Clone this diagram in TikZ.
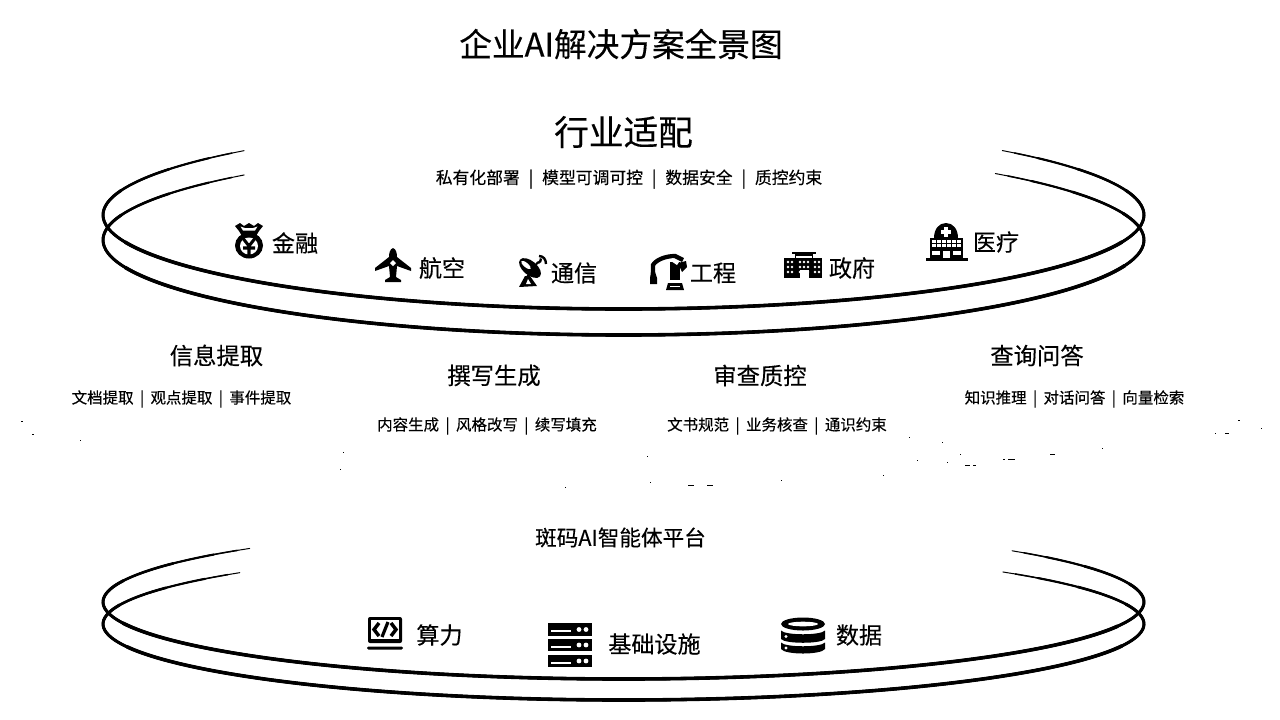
\documentclass[tikz,border=0pt]{standalone}
\usepackage{fontspec}
\setmainfont[FakeBold=0.3]{Noto Sans CJK SC}
\newcommand{\fz}[1]{\fontsize{#1}{#1}\selectfont}
\newcommand{\sepa}{\hspace{6.7pt}|\hspace{6.7pt}}
\newcommand{\sepb}{\hspace{4.8pt}|\hspace{4.8pt}}
\newcommand{\ringarc}[4]{% cy, b, open-end angle left, open-end angle right
  \foreach \wd/\st in {1.0/0,1.5/2,2.1/6,2.6/14,3.0/28,3.6/60}{
    \pgfmathsetmacro{\ta}{180+#3-\st}
    \pgfmathsetmacro{\tb}{-#4+\st}
    \draw[line width=\wd*0.75pt,line cap=round]
      plot[domain=\ta:\tb,samples=110,smooth] ({623.5+520.5*cos(\x)},{#1+#2*sin(\x)});
  }}
\tikzset{
  txt/.style={inner sep=0pt,outer sep=0pt,text=black},
  titletxt/.style={txt,font=\fz{24.5}},
  headtxt/.style={txt,font=\fz{26}},
  grouptxt/.style={txt,font=\fz{17.5}},
  labeltxt/.style={txt,font=\fz{17.3}},
  subtxt/.style={txt,font=\fz{12.6}},
  smalltxt/.style={txt,font=\fz{11.6}},
  platformtxt/.style={txt,font=\fz{16.2}},
  speck/.style={fill=black}
}
\begin{document}
\begin{tikzpicture}[x=0.75pt,y=-0.75pt]
\useasboundingbox (0,0) rectangle (1280,719);
\fill[white] (0,0) rectangle (1280,719);
% rings
\ringarc{215}{94}{43.2}{43.3}
\ringarc{240}{95}{43.2}{44.4}
\ringarc{602}{77}{44.1}{41.7}
\ringarc{624}{76}{42.5}{43.2}
% texts
\node[titletxt] (title) at (621,44) {企业AI解决方案全景图};
\node[headtxt] (industry) at (623.5,132) {行业适配};
\node[subtxt] (industrysub) at (629,179) {私有化部署\sepa 模型可调可控\sepa 数据安全\sepa 质控约束};
\node[labeltxt] (finance) at (295,243) {金融};
\node[labeltxt] (aviation) at (442,268) {航空};
\node[labeltxt] (telecom) at (574,273) {通信};
\node[labeltxt] (engineering) at (713,273) {工程};
\node[labeltxt] (government) at (852,268) {政府};
\node[labeltxt] (medical) at (996,242) {医疗};
\node[grouptxt] (extract) at (216.5,355.5) {信息提取};
\node[smalltxt] (extractsub) at (181.5,399) {文档提取\sepb 观点提取\sepb 事件提取};
\node[grouptxt] (write) at (494,375.5) {撰写生成};
\node[smalltxt] (writesub) at (487,426) {内容生成\sepb 风格改写\sepb 续写填充};
\node[grouptxt] (review) at (760,375.5) {审查质控};
\node[smalltxt] (reviewsub) at (777,426) {文书规范\sepb 业务核查\sepb 通识约束};
\node[grouptxt] (query) at (1037,355.5) {查询问答};
\node[smalltxt] (querysub) at (1074.5,399) {知识推理\sepb 对话问答\sepb 向量检索};
\node[platformtxt] (platform) at (620.5,537.5) {斑码AI智能体平台};
\node[labeltxt] (compute) at (439.5,635) {算力};
\node[labeltxt] (infra) at (654.5,644) {基础设施};
\node[labeltxt] (data) at (859,635) {数据};
% money bag
\fill (249,245.5) ellipse [x radius=14,y radius=13];
\fill[white] (249,246) ellipse [x radius=9,y radius=8.5];
\fill (239,231) -- (235,226) -- (240,223) -- (244,226) -- (249,223) -- (254,226) -- (258,223) -- (263,226) -- (259,231) -- (256,236) -- (242,236) -- cycle;
\fill[white] (240.5,226.5) -- (245,228) -- (253,228) -- (257.5,226.5) -- (255,230.5) -- (243,230.5) -- cycle;
\draw[line width=2.3pt] (243.5,239) -- (249,246) -- (254.5,239) (249,246) -- (249,255) (243,248) -- (255,248);
% airplane
\fill (393,248) .. controls (396,249) and (397,253) .. (397,257) -- (411,268) -- (411,271) -- (397,266) -- (396,277) -- (401,280) -- (401,282) -- (385,282) -- (385,280) -- (390,277) -- (389,266) -- (375,271) -- (375,268) -- (389,257) .. controls (389,253) and (390,249) .. (393,248) -- cycle;
\fill[white] (393,260) -- (396,263) -- (393,266) -- (390,263) -- cycle;
% satellite dish
\fill[rotate around={-40:(530,268)}] (530,268) ellipse [x radius=13,y radius=7];
\fill[white,rotate around={-40:(526,265)}] (526,265) ellipse [x radius=6,y radius=2.2];
\fill (519,287) -- (525,276) -- (530,276) -- (537,286) -- cycle;
\fill[white] (526,284) -- (528,279) -- (531,284) -- cycle;
\draw[line width=1.8pt] (538,263) .. controls (540,262) and (541,261) .. (541,258.5);
\draw[line width=1.8pt] (539,256) .. controls (543,256) and (546,259) .. (546,264);
\draw[line width=1.5pt] (527,277) -- (538,262);
% robot arm
\draw[line width=3.2pt] (653,274) -- (653,265) .. controls (656,260) and (665,256) .. (675,256) -- (683,260);
\fill (650,284) -- (650,278) -- (651,272) -- (655,272) -- (657,278) -- (657,284) -- cycle;
\fill (670,262) -- (680,262) -- (680,280) -- (670,280) -- cycle;
\fill (668,283) -- (682,283) -- (684,290) -- (666,290) -- cycle;
\fill[white] (670,285.5) rectangle (680,287);
\fill (678,263) -- (686,261) -- (687,267) -- (682,272) -- cycle;
\fill[white] (672,258) -- (679,262) -- (677,265) -- (671,261) -- cycle;
% government building
\fill (795,252) rectangle (813,278);
\fill (784,258) rectangle (822,278);
\fill (792,252) rectangle (816,254);
\fill[white] (796,256) rectangle (812,257.5);
\foreach \wx in {788,792,800,804,808,815,819}{
  \foreach \wy in {262,267,272}{
    \fill[white] (\wx,\wy) circle [radius=1.3];}}
\fill[white] (799.5,270) rectangle (808.5,278);
% hospital
\fill (934,238) .. controls (934,229) and (939,223) .. (946,223) .. controls (953,223) and (958,229) .. (958,238) -- cycle;
\fill[white] (944,227) rectangle (948,237);
\fill[white] (941,230) rectangle (951,234);
\fill (930,238) rectangle (963,258);
\fill (926,258) rectangle (968,260.5);
\foreach \wx in {934,939,944,949,954,959}{
  \foreach \wy in {241.5,245.5}{
    \fill[white] (\wx-1.6,\wy-1.1) rectangle (\wx+1.6,\wy+1.1);}}
\foreach \wx in {934,938,955,959}{
  \fill[white] (\wx-1.6,250.5) rectangle (\wx+1.6,255);}
\fill[white] (943,250.5) rectangle (950,258);
% code monitor
\fill[rounded corners=1.5pt] (368,617) rectangle (402,643);
\fill[white] (371,620) rectangle (399,639);
\draw[line width=2.6pt] (379,623) -- (374,629.5) -- (379,636);
\draw[line width=2.6pt] (391,623) -- (396,629.5) -- (391,636);
\draw[line width=2.4pt] (388,622) -- (382,637);
\fill[rounded corners=1pt] (367,646.5) rectangle (403,649.5);
% server
\foreach \sy/\sh in {623/13,639/12,655/12}{
  \fill (548,\sy) rectangle (592,\sy+\sh);
  \fill[white] (551,\sy+\sh*0.55) rectangle (571,\sy+\sh*0.55+2);
  \fill[white] (579,\sy+\sh*0.5) circle [radius=2.4];
  \fill[white] (586,\sy+\sh*0.5) circle [radius=2.4];
}
% database
\fill (803,624) ellipse [x radius=22,y radius=6.5];
\fill[white] (803,624) ellipse [x radius=15,y radius=2.3];
\fill (781,630.5) .. controls (785,635.5) and (821,635.5) .. (825,630.5) -- (825,639) .. controls (821,644) and (785,644) .. (781,639) -- cycle;
\fill (781,642.5) .. controls (785,647.5) and (821,647.5) .. (825,642.5) -- (825,649) .. controls (821,655) and (785,655) .. (781,649) -- cycle;
\fill[white] (786,636.5) circle [radius=1.6];
\fill[white] (786,648) circle [radius=1.6];
% specks
\foreach \sx/\sy/\sw in {21/421/2,32/434/2,80/440/1,343/452/1,340/469/1,565/487/1,647/456/1,650/482/1,688/485/6,707/485/6,781/480/1,883/475/1,909/437/1,942/442/1,960/454/1,917/460/1,947/462/1,965/465/5,973/465/3,1003/459/2,1008/459/7,1050/454/5,1102/448/1,1238/420/2,1215/433/1,1225/433/4,1261/428/1}{
  \fill[speck] (\sx,\sy) rectangle (\sx+\sw,\sy+1);}
\end{tikzpicture}
\end{document}
